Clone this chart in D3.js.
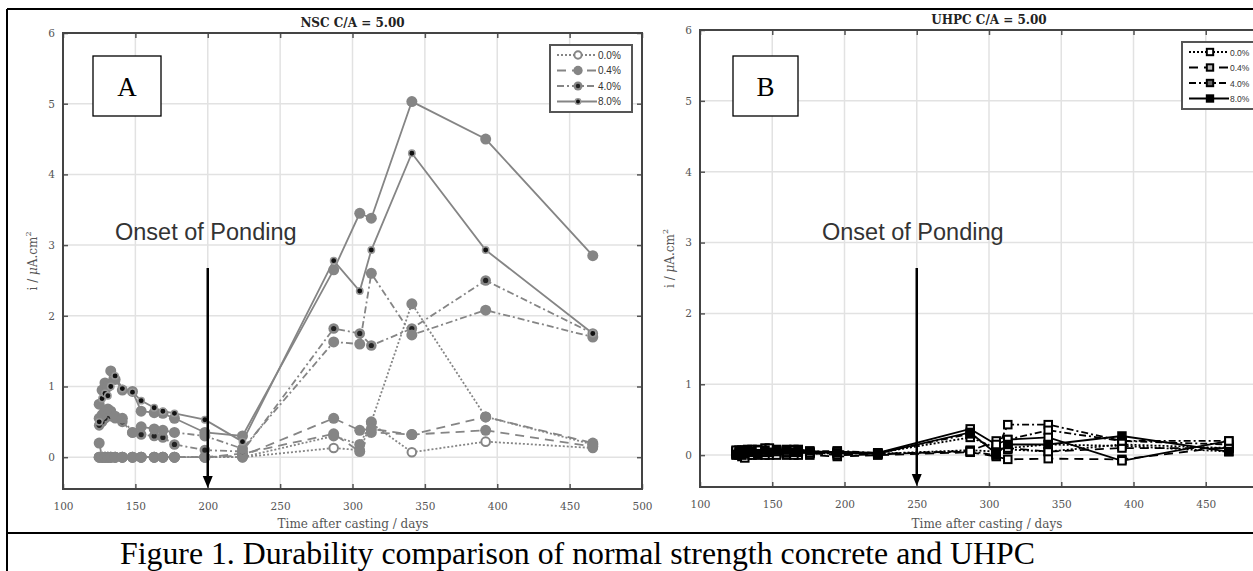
<!DOCTYPE html>
<html>
<head>
<meta charset="utf-8">
<script src="https://cdn.jsdelivr.net/npm/d3@7"></script>
<style>
  body { margin: 0; background: #fff; }
  svg { display: block; }
</style>
</head>
<body>
<div id="chart"></div>
<script>
// ---- data ----
var levels = ["0.0%", "0.4%", "4.0%", "8.0%"];
var xTicks = [100, 150, 200, 250, 300, 350, 400, 450, 500];
var yTicks = [0, 1, 2, 3, 4, 5, 6];

// panel A : NSC (days after casting)
var daysA = [125,127,129,131,133,136,141,148,154,163,169,177,198,224,287,305,313,341,392,466];
var nsc00a = [0,0,0,0,0,0,0,0,0,0,0,0,0,0,0.13,0.1,0.48,0.07,0.22,0.13];
var nsc00b = [0,0,0,0,0,0,0,0,0,0,0,0,0,0,0.3,0.18,0.5,2.17,0.57,0.18];
var nsc04a = [0.2,0,0,0,0,0,0,0,0,0,0,0,0,0.02,0.55,0.38,0.4,0.32,0.57,0.2];
var nsc04b = [0,0,0,0,0,0,0,0,0,0,0,0,0,0.05,0.33,0.08,0.35,0.32,0.38,0.15];
var nsc40a = [0.45,0.5,0.55,0.6,0.58,0.55,0.5,0.35,0.32,0.3,0.28,0.18,0.1,0.08,1.82,1.75,1.58,1.82,2.5,1.75];
var nsc40b = [0.55,0.6,0.65,0.68,0.65,0.58,0.55,0.35,0.43,0.4,0.38,0.35,0.3,0.12,1.63,1.6,2.6,1.73,2.08,1.7];
var nsc80a = [0.75,0.95,1.05,1.0,1.22,1.1,0.95,0.93,0.65,0.63,0.62,0.55,0.35,0.3,2.65,3.45,3.38,5.03,4.5,2.85];
var nsc80b = [0.5,0.83,0.9,0.87,1.0,1.15,0.97,0.92,0.8,0.7,0.65,0.62,0.53,0.22,2.78,2.35,2.93,4.3,2.93,1.75];

// panel B : UHPC
var daysB = [125,127,129,131,133,136,140,145,148,153,160,165,168,176,195,223,287,305,313,341,392,466];
var uh00a = [0.02,0.05,0.03,0.0,0.04,0.02,0.05,0.06,0.03,0.04,0.02,0.03,0.05,0.02,0.03,0.02,0.07,0.05,0.1,0.15,0.13,0.05];
var uh00b = [0.05,0.02,0.06,0.03,0.02,0.05,0.03,0.08,0.05,0.02,0.05,0.06,0.03,0.04,0.02,0.03,0.25,0.1,0.08,0.05,0.15,0.1];
var uh04a = [0.0,0.03,-0.02,0.02,0.0,0.03,0.0,0.02,0.0,0.03,0.0,0.02,0.0,0.0,-0.02,0.0,0.04,-0.02,-0.06,-0.05,-0.06,0.12];
var uh04b = [0.03,0.0,0.02,-0.04,0.03,0.0,0.04,0.0,0.06,0.0,0.03,0.0,0.04,0.03,0.0,0.01,0.06,0.2,0.1,0.05,0.1,0.1];
var uh40a = [0.06,0.04,0.07,0.05,0.08,0.06,0.08,0.1,0.07,0.06,0.08,0.05,0.07,0.05,0.06,0.03,0.3,0.05,0.43,0.43,0.2,0.15];
var uh40b = [0.04,0.06,0.0,0.06,0.05,0.08,0.06,0.04,0.08,0.05,0.06,0.08,0.05,0.04,0.04,0.02,0.05,0.0,0.22,0.35,0.2,0.2];
var uh80a = [0.07,0.03,0.05,0.07,0.06,0.04,0.07,0.05,0.1,0.07,0.04,0.07,0.06,0.03,0.05,0.03,0.37,0.15,0.22,0.25,-0.08,0.2];
var uh80b = [0.01,0.07,0.04,0.02,0.07,0.05,0.02,0.07,0.04,0.08,0.07,0.04,0.08,0.06,0.03,0.02,0.32,0.02,0.15,0.15,0.27,0.05];

// ---- styles ----
var dashes = {"0.0%": "2,2", "0.4%": "9,6", "4.0%": "7,3,2,3", "8.0%": null};
var grey = "#858585";
var W = 1253, H = 571;

var svg = d3.select("#chart").append("svg")
  .attr("width", W).attr("height", H);

// outer frame of the figure table
svg.append("line").attr("x1", 7).attr("x2", W).attr("y1", 9).attr("y2", 9)
  .attr("stroke", "#000").attr("stroke-width", 2);
svg.append("line").attr("x1", 7).attr("x2", 7).attr("y1", 9).attr("y2", H)
  .attr("stroke", "#000").attr("stroke-width", 2);
svg.append("line").attr("x1", 7).attr("x2", W).attr("y1", 533).attr("y2", 533)
  .attr("stroke", "#000").attr("stroke-width", 2);

svg.append("text")
  .attr("x", 120).attr("y", 564)
  .style("font-family", "'Liberation Serif', 'Times New Roman', serif")
  .style("font-size", "31.8px")
  .text("Figure 1. Durability comparison of normal strength concrete and UHPC");

function drawPanel(p) {
  var x = d3.scaleLinear().domain([100, 500]).range([p.left, p.right]);
  var y = d3.scaleLinear().domain([-0.45, 6]).range([p.bottom, p.top]);
  var g = svg.append("g");
  var shownX = xTicks.filter(d => x(d) < W - 8);

  // grid
  g.selectAll(".gx").data(xTicks.slice(1, -1)).enter().append("line")
    .attr("x1", d => x(d)).attr("x2", d => x(d))
    .attr("y1", p.top).attr("y2", p.bottom)
    .attr("stroke", "#e2e2e2").attr("stroke-width", 1.5);
  g.selectAll(".gy").data(yTicks.slice(0, -1)).enter().append("line")
    .attr("x1", p.left).attr("x2", p.right)
    .attr("y1", d => y(d)).attr("y2", d => y(d))
    .attr("stroke", "#e2e2e2").attr("stroke-width", 1.5);

  // axes with inward ticks
  var axFont = function(sel) {
    sel.select(".domain").remove();
    sel.selectAll("line").attr("stroke", "#555").attr("stroke-width", 1.5);
    sel.selectAll("text")
      .style("font-family", "'DejaVu Serif', serif")
      .style("font-size", "10.5px").attr("fill", "#555");
  };
  g.append("g").attr("transform", "translate(0," + p.bottom + ")")
    .call(d3.axisBottom(x).tickValues(shownX).tickSize(-5).tickPadding(14).tickFormat(d3.format("d")))
    .call(axFont);
  g.append("g").attr("transform", "translate(0," + p.top + ")")
    .call(d3.axisTop(x).tickValues(xTicks).tickSize(-5).tickFormat(""))
    .call(axFont);
  g.append("g").attr("transform", "translate(" + p.left + ",0)")
    .call(d3.axisLeft(y).tickValues(yTicks).tickSize(-5).tickPadding(8).tickFormat(d3.format("d")))
    .call(axFont);
  g.append("g").attr("transform", "translate(" + p.right + ",0)")
    .call(d3.axisRight(y).tickValues(yTicks).tickSize(-5).tickFormat(""))
    .call(axFont);
  g.append("rect")
    .attr("x", p.left).attr("y", p.top)
    .attr("width", p.right - p.left).attr("height", p.bottom - p.top)
    .attr("fill", "none").attr("stroke", "#444").attr("stroke-width", 2);

  // titles
  g.append("text")
    .attr("x", (p.left + p.right) / 2).attr("y", p.top - 6)
    .attr("text-anchor", "middle")
    .style("font-family", "'DejaVu Serif', serif").style("font-weight", "bold")
    .style("font-size", "12px").attr("fill", "#222")
    .text(p.title);
  g.append("text")
    .attr("x", p.xLabelX).attr("y", 528)
    .attr("text-anchor", "middle")
    .style("font-family", "'DejaVu Serif', serif")
    .style("font-size", "12px").attr("fill", "#555")
    .text("Time after casting / days");
  var yl = g.append("text")
    .attr("transform", "translate(" + (p.left - 26) + "," + ((p.top + p.bottom) / 2) + ") rotate(-90)")
    .attr("text-anchor", "middle")
    .style("font-family", "'DejaVu Serif', serif")
    .style("font-size", "12px").attr("fill", "#555");
  yl.append("tspan").text("i / ");
  yl.append("tspan").style("font-style", "italic").text("μ");
  yl.append("tspan").text("A.cm");
  yl.append("tspan").attr("dy", -6).style("font-size", "8px").text("2");

  // series
  var line = d3.line().x(d => x(d[0])).y(d => y(d[1]));
  p.series.forEach(function(s) {
    var pts = p.days.map((d, i) => [d, s.values[i]]);
    g.append("path").datum(pts)
      .attr("d", line)
      .attr("fill", "none")
      .attr("stroke", p.lineColor)
      .attr("stroke-width", p.lineWidth)
      .attr("stroke-dasharray", dashes[s.level]);
  });
  p.series.forEach(function(s) {
    var pts = p.days.map((d, i) => [d, s.values[i]]);
    p.marker(g.append("g"), pts.map(d => [x(d[0]), y(d[1])]), s.mark);
  });

  // panel letter
  g.append("rect").attr("x", p.boxX).attr("y", 56).attr("width", p.boxW).attr("height", 60)
    .attr("fill", "#fff").attr("stroke", "#000").attr("stroke-width", 1.3);
  g.append("text").attr("x", p.boxX + p.boxW / 2).attr("y", 96)
    .attr("text-anchor", "middle")
    .style("font-family", "'Liberation Serif', 'Times New Roman', serif")
    .style("font-size", "27px").text(p.letter);

  // onset of ponding
  g.append("text").attr("x", p.onsetX).attr("y", 240)
    .style("font-family", "'Liberation Sans', Arial, sans-serif")
    .style("font-size", "23.5px").attr("fill", "#333")
    .text("Onset of Ponding");
  var ax = x(p.ponding);
  g.append("line").attr("x1", ax).attr("x2", ax).attr("y1", 268).attr("y2", p.bottom - 10)
    .attr("stroke", "#000").attr("stroke-width", 2.5);
  g.append("path")
    .attr("d", "M" + (ax - 5) + "," + (p.bottom - 13) + "L" + (ax + 5) + "," + (p.bottom - 13) + "L" + ax + "," + (p.bottom - 1) + "Z")
    .attr("fill", "#000");

  // legend
  var lg = g.append("g");
  lg.append("rect").attr("x", p.legX).attr("y", p.legY).attr("width", p.legW).attr("height", 67)
    .attr("fill", "#fff").attr("stroke", "#555").attr("stroke-width", 2);
  p.legend.forEach(function(s, i) {
    var yy = p.legY + 10 + i * 15.5;
    lg.append("line").attr("x1", p.legX + 7).attr("x2", p.legX + 47)
      .attr("y1", yy).attr("y2", yy)
      .attr("stroke", p.lineColor).attr("stroke-width", p.lineWidth)
      .attr("stroke-dasharray", dashes[s.level]);
    p.marker(lg.append("g"), [[p.legX + 28, yy]], s.mark, 0.85);
    lg.append("text").attr("x", p.legX + 48).attr("y", yy + 3.5)
      .style("font-family", "'Liberation Sans', Arial, sans-serif")
      .style("font-size", p.legFont).attr("fill", "#333")
      .text(s.level);
  });
}

// NSC circle markers
function circles(g, pts, mark, k) {
  k = k || 1;
  if (mark === "open") {
    g.selectAll("circle").data(pts).enter().append("circle")
      .attr("cx", d => d[0]).attr("cy", d => d[1]).attr("r", 4.3 * k)
      .attr("fill", "#fff").attr("stroke", grey).attr("stroke-width", 2);
  } else if (mark === "grey") {
    g.selectAll("circle").data(pts).enter().append("circle")
      .attr("cx", d => d[0]).attr("cy", d => d[1]).attr("r", 5.5 * k)
      .attr("fill", grey);
  } else if (mark === "greydark") {
    g.selectAll(".o").data(pts).enter().append("circle")
      .attr("cx", d => d[0]).attr("cy", d => d[1]).attr("r", 5.3 * k)
      .attr("fill", grey);
    g.selectAll(".i").data(pts).enter().append("circle")
      .attr("cx", d => d[0]).attr("cy", d => d[1]).attr("r", 2.6 * k)
      .attr("fill", "#222");
  } else {
    g.selectAll("circle").data(pts).enter().append("circle")
      .attr("cx", d => d[0]).attr("cy", d => d[1]).attr("r", 3.2 * k)
      .attr("fill", "#111").attr("stroke", "#999").attr("stroke-width", 1.5);
  }
}

// UHPC square markers
var squareFill = {open: "#fff", light: "#bbb", mid: "#666", full: "#000"};
function squares(g, pts, mark, k) {
  k = k || 1;
  var s = 7.5 * k;
  g.selectAll("rect").data(pts).enter().append("rect")
    .attr("x", d => d[0] - s / 2).attr("y", d => d[1] - s / 2)
    .attr("width", s).attr("height", s)
    .attr("fill", squareFill[mark]).attr("stroke", "#000").attr("stroke-width", 2);
}

drawPanel({
  left: 63, right: 642, top: 33, bottom: 489,
  title: "NSC C/A = 5.00", xLabelX: 353,
  days: daysA, lineColor: grey, lineWidth: 1.8, marker: circles,
  series: [
    {level: "0.0%", values: nsc00a, mark: "open"},
    {level: "0.0%", values: nsc00b, mark: "grey"},
    {level: "0.4%", values: nsc04a, mark: "grey"},
    {level: "0.4%", values: nsc04b, mark: "grey"},
    {level: "4.0%", values: nsc40a, mark: "greydark"},
    {level: "4.0%", values: nsc40b, mark: "grey"},
    {level: "8.0%", values: nsc80a, mark: "grey"},
    {level: "8.0%", values: nsc80b, mark: "black"}
  ],
  legend: [
    {level: levels[0], mark: "open"}, {level: levels[1], mark: "grey"},
    {level: levels[2], mark: "greydark"}, {level: levels[3], mark: "black"}
  ],
  boxX: 93, boxW: 68, letter: "A", onsetX: 115, ponding: 200,
  legX: 550, legY: 45, legW: 82, legFont: "10px"
});

drawPanel({
  left: 700, right: 1278, top: 30, bottom: 487,
  title: "UHPC C/A = 5.00", xLabelX: 987,
  days: daysB, lineColor: "#000", lineWidth: 1.8, marker: squares,
  series: [
    {level: "0.0%", values: uh00a, mark: "open"},
    {level: "0.0%", values: uh00b, mark: "open"},
    {level: "0.4%", values: uh04a, mark: "open"},
    {level: "0.4%", values: uh04b, mark: "open"},
    {level: "4.0%", values: uh40a, mark: "open"},
    {level: "4.0%", values: uh40b, mark: "open"},
    {level: "8.0%", values: uh80a, mark: "open"},
    {level: "8.0%", values: uh80b, mark: "full"}
  ],
  legend: [
    {level: levels[0], mark: "open"}, {level: levels[1], mark: "light"},
    {level: levels[2], mark: "mid"}, {level: levels[3], mark: "full"}
  ],
  boxX: 733, boxW: 65, letter: "B", onsetX: 822, ponding: 250,
  legX: 1182, legY: 42, legW: 80, legFont: "8.5px"
});
</script>
</body>
</html>
